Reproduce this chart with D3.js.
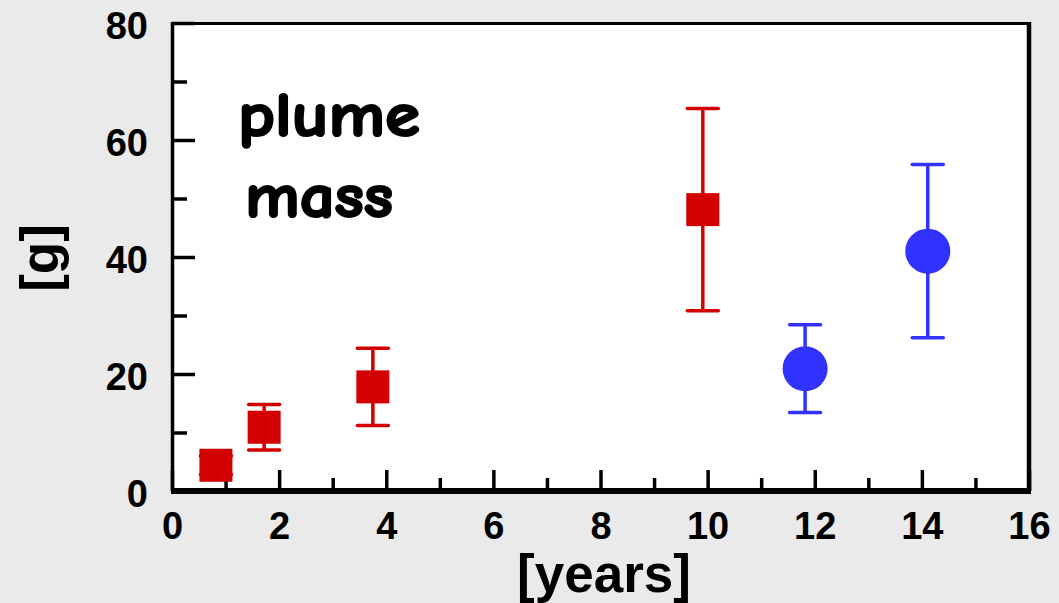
<!DOCTYPE html>
<html>
<head>
<meta charset="utf-8">
<script src="https://cdn.jsdelivr.net/npm/d3@7"></script>
<style>
    html, body { margin: 0; padding: 0; background: #eaeaea; }
    svg { display: block; }
</style>
</head>
<body>
<div id="chart"></div>
<script>
// plume mass over time
const redYears = [0.82, 1.72, 3.75, 9.91];
const redMass = [4.4, 10.9, 17.8, 48.1];
const redErr = [1.6, 3.9, 6.6, 17.3];

const blueYears = [11.82, 14.11];
const blueMass = [20.9, 41.0];
const blueErr = [7.5, 14.8];

const xMajorTicks = [0, 2, 4, 6, 8, 10, 12, 14, 16];
const xMinorTicks = [1, 3, 5, 7, 9, 11, 13, 15];
const yMajorTicks = [0, 20, 40, 60, 80];
const yMinorTicks = [10, 30, 50, 70];

const width = 1059;
const height = 603;
const plotLeft = 172, plotRight = 1029, plotTop = 23, plotBottom = 491;

const red = '#d30000';
const blue = '#3232ff';

const svg = d3.select('#chart')
    .append('svg')
    .attr('width', width)
    .attr('height', height);

svg.append('rect')
    .attr('width', width)
    .attr('height', height)
    .attr('fill', '#eaeaea');

const x = d3.scaleLinear().domain([0, 16]).range([plotLeft, plotRight]);
const y = d3.scaleLinear().domain([0, 80]).range([plotBottom, plotTop]);

// plot area
svg.append('rect')
    .attr('x', plotLeft)
    .attr('y', plotTop)
    .attr('width', plotRight - plotLeft)
    .attr('height', plotBottom - plotTop)
    .attr('fill', '#fff');

const tickFont = '"Liberation Sans", Arial, sans-serif';

// x axis, ticks pointing inward
const xAxisG = svg.append('g').attr('transform', `translate(0,${plotBottom})`);
xAxisG.append('g')
    .call(d3.axisBottom(x).tickValues(xMinorTicks).tickSize(-13).tickFormat(''));
xAxisG.append('g')
    .call(d3.axisBottom(x).tickValues(xMajorTicks).tickSize(-21).tickPadding(21));

// y axis
const yAxisG = svg.append('g').attr('transform', `translate(${plotLeft},0)`);
yAxisG.append('g')
    .call(d3.axisLeft(y).tickValues(yMinorTicks).tickSize(-15).tickFormat(''));
yAxisG.append('g')
    .call(d3.axisLeft(y).tickValues(yMajorTicks).tickSize(-23).tickPadding(24));

svg.selectAll('.domain').remove();
svg.selectAll('.tick line')
    .attr('stroke', '#000')
    .attr('stroke-width', 3.5);
svg.selectAll('.tick text')
    .attr('fill', '#000')
    .style('font-family', tickFont)
    .style('font-weight', 'bold')
    .style('font-size', '38px');
yAxisG.selectAll('.tick text').attr('dy', '0.4em');

// frame
svg.append('line')
    .attr('x1', plotLeft).attr('x2', plotRight)
    .attr('y1', plotTop + 0.5).attr('y2', plotTop + 0.5)
    .attr('stroke', '#000').attr('stroke-width', 3);
svg.append('line')
    .attr('x1', plotLeft + 0.5).attr('x2', plotLeft + 0.5)
    .attr('y1', plotTop - 1).attr('y2', plotBottom)
    .attr('stroke', '#000').attr('stroke-width', 3.5);
svg.append('line')
    .attr('x1', plotRight).attr('x2', plotRight)
    .attr('y1', plotTop - 1).attr('y2', plotBottom)
    .attr('stroke', '#000').attr('stroke-width', 4.5);
svg.append('line')
    .attr('x1', plotLeft - 1).attr('x2', plotRight + 2)
    .attr('y1', plotBottom).attr('y2', plotBottom)
    .attr('stroke', '#000').attr('stroke-width', 6);

// error bars + markers
function drawSeries(years, mass, err, color, shape) {
    const data = years.map((yr, i) => ({ yr, m: mass[i], e: err[i] }));
    const g = svg.append('g');
    const capHalf = 15.5;

    g.selectAll('line.bar').data(data).enter().append('line')
        .attr('x1', d => x(d.yr)).attr('x2', d => x(d.yr))
        .attr('y1', d => y(d.m + d.e)).attr('y2', d => y(d.m - d.e))
        .attr('stroke', color).attr('stroke-width', 3.5);

    ['hi', 'lo'].forEach(k => {
        g.selectAll('line.cap-' + k).data(data).enter().append('line')
            .attr('x1', d => x(d.yr) - capHalf).attr('x2', d => x(d.yr) + capHalf)
            .attr('y1', d => y(k === 'hi' ? d.m + d.e : d.m - d.e))
            .attr('y2', d => y(k === 'hi' ? d.m + d.e : d.m - d.e))
            .attr('stroke', color).attr('stroke-width', 3.5)
            .attr('stroke-linecap', 'round');
    });

    if (shape === 'square') {
        const s = 33;
        g.selectAll('rect').data(data).enter().append('rect')
            .attr('x', d => x(d.yr) - s / 2)
            .attr('y', d => y(d.m) - s / 2)
            .attr('width', s).attr('height', s)
            .attr('fill', color);
    } else {
        g.selectAll('circle').data(data).enter().append('circle')
            .attr('cx', d => x(d.yr))
            .attr('cy', d => y(d.m))
            .attr('r', 22.5)
            .attr('fill', color);
    }
}

drawSeries(redYears, redMass, redErr, red, 'square');
drawSeries(blueYears, blueMass, blueErr, blue, 'circle');

// annotation (comic-style font is not installed, so thicken a fallback)
const noteFont = '"Comic Sans MS", "Comic Neue", Lato, "Open Sans", sans-serif';
[['plume', 238, 136, 182], ['mass', 245, 217, 148]].forEach(([word, tx, ty, len]) => {
    svg.append('text')
        .attr('x', tx).attr('y', ty)
        .attr('textLength', len).attr('lengthAdjust', 'spacingAndGlyphs')
        .attr('fill', '#000')
        .attr('stroke', '#000').attr('stroke-width', 2.2).attr('stroke-linejoin', 'round')
        .style('font-family', noteFont).style('font-weight', 'bold').style('font-size', '63px')
        .text(word);
});

// axis titles
svg.append('text')
    .attr('x', 604).attr('y', 592)
    .attr('text-anchor', 'middle')
    .style('font-family', tickFont).style('font-weight', 'bold').style('font-size', '53px')
    .text('[years]');
svg.append('text')
    .attr('transform', 'translate(58,258) rotate(-90)')
    .attr('text-anchor', 'middle')
    .style('font-family', tickFont).style('font-weight', 'bold').style('font-size', '53px')
    .text('[g]');
</script>
</body>
</html>
